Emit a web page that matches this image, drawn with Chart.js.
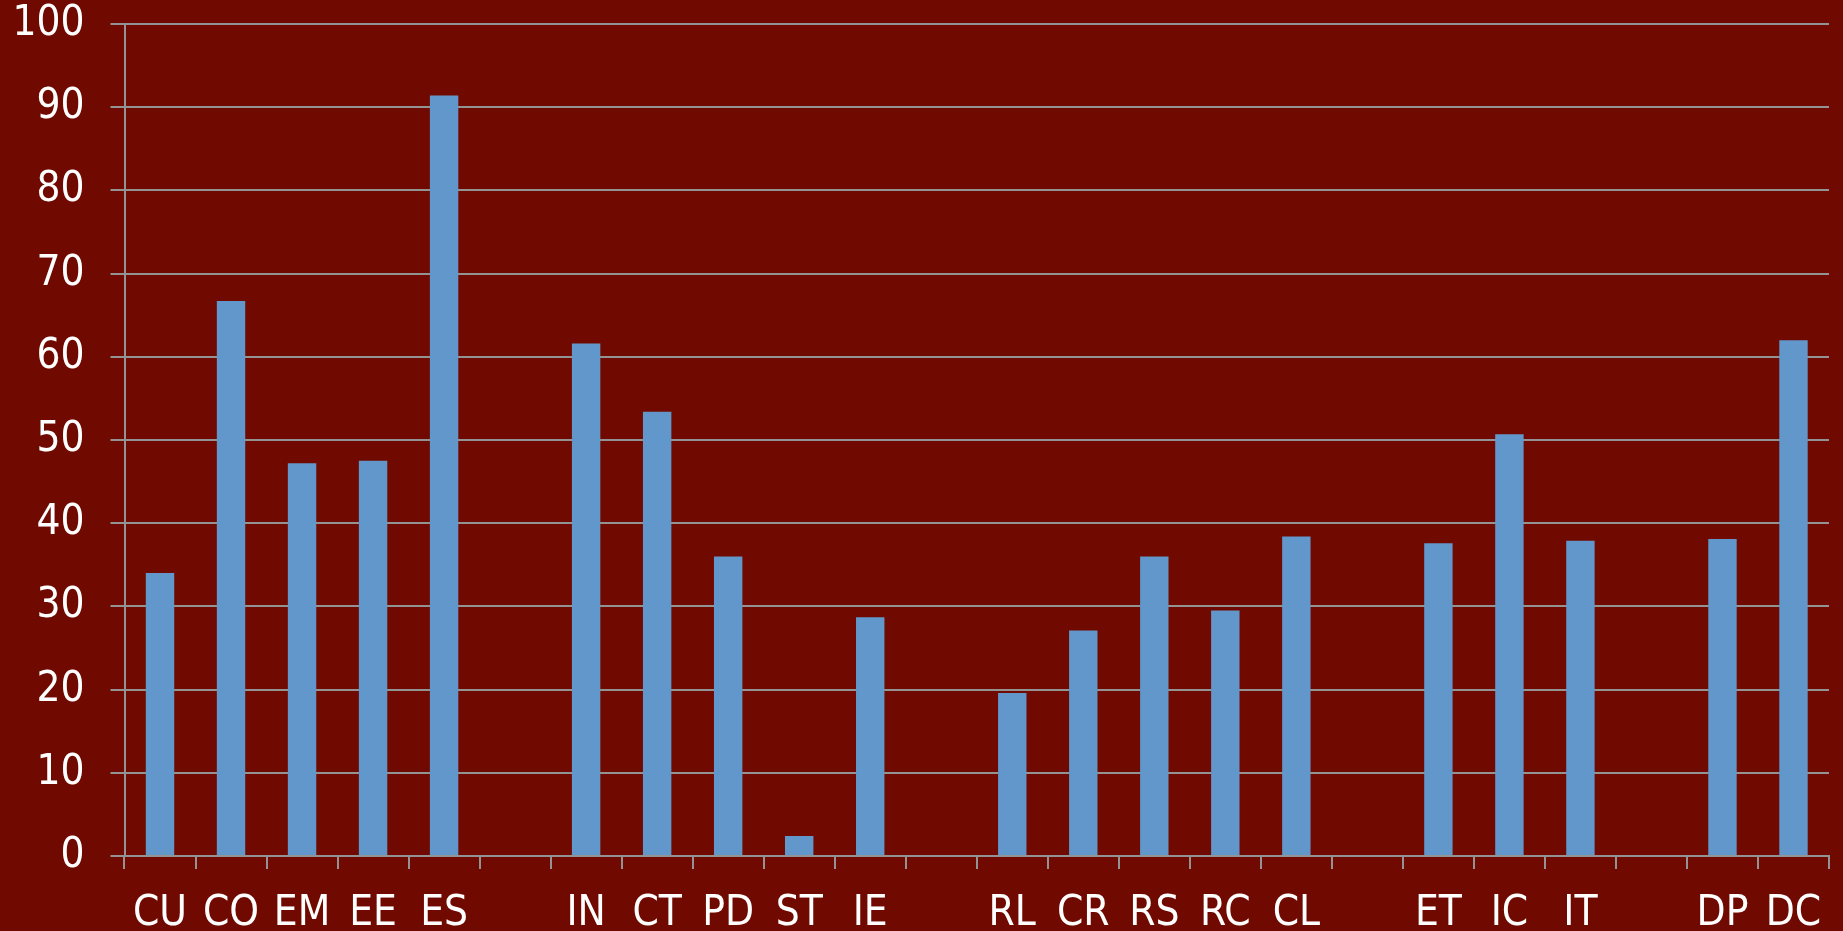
<!DOCTYPE html>
<html>
<head>
<meta charset="utf-8">
<script src="https://cdn.jsdelivr.net/npm/chart.js@4/dist/chart.umd.min.js"></script>
<style>
  html, body { margin: 0; padding: 0; background: #700A00; }
  canvas { display: block; }
</style>
</head>
<body>
<canvas id="c" width="1843" height="931" style="width:1843px;height:931px"></canvas>
<script>
// Category codes; empty strings are spacer slots between the groups.
const categories = ['CU','CO','EM','EE','ES','', 'IN','CT','PD','ST','IE','', 'RL','CR','RS','RC','CL','', 'ET','IC','IT','', 'DP','DC'];
// Scores per category (null in the spacer slots).
const values = [34.0, 66.7, 47.2, 47.5, 91.4, null, 61.6, 53.4, 36.0, 2.4, 28.7, null, 19.6, 27.1, 36.0, 29.5, 38.4, null, 37.6, 50.7, 37.9, null, 38.1, 62.0];
// Value axis.
const yMin = 0;
const yMax = 100;
const yStep = 10;

const gridColor = '#939393';
const labelFont = { family: '"DejaVu Sans Condensed", "DejaVu Sans", sans-serif', size: 42 };

new Chart(document.getElementById('c'), {
  type: 'bar',
  data: {
    labels: categories,
    datasets: [{
      data: values,
      backgroundColor: '#6197CA',
      borderWidth: 0,
      barPercentage: 0.4,
      categoryPercentage: 1.0
    }]
  },
  options: {
    responsive: false,
    animation: false,
    layout: { padding: { top: 24, right: 14, left: 0, bottom: 0 } },
    plugins: { legend: { display: false }, tooltip: { enabled: false } },
    scales: {
      x: {
        grid: { offset: true, drawOnChartArea: false, drawTicks: true, tickLength: 13, color: gridColor, lineWidth: 2 },
        border: { color: gridColor, width: 2 },
        ticks: { color: '#FFFFFF', font: labelFont, padding: 20, autoSkip: false, maxRotation: 0 },
        afterFit(scale) { scale.height = 75; }
      },
      y: {
        min: yMin,
        max: yMax,
        grid: { color: gridColor, lineWidth: 2, tickLength: 14 },
        border: { color: gridColor, width: 2 },
        ticks: { stepSize: yStep, color: '#FFFFFF', font: labelFont, padding: 26 },
        afterFit(scale) {
          scale.width = 124.5;
          // keep the plot area flush with the layout padding
          scale.paddingTop = 0;
          scale.paddingBottom = 0;
        }
      }
    }
  }
});
</script>
</body>
</html>
